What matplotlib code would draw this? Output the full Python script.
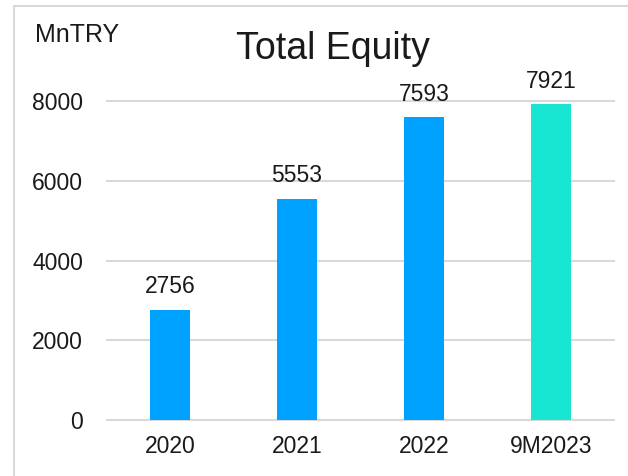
import matplotlib
matplotlib.use("Agg")
import matplotlib.pyplot as plt
from matplotlib.patches import Rectangle

categories = ["2020", "2021", "2022", "9M2023"]
values = [2756, 5553, 7593, 7921]
colors = ["#00A2FF", "#00A2FF", "#00A2FF", "#19E6D2"]
yticks = [0, 2000, 4000, 6000, 8000]

plt.rcParams['font.family'] = ['Liberation Sans', 'DejaVu Sans']

fig = plt.figure(figsize=(6.28, 4.76), dpi=100)
ax = fig.add_axes([0.170, 0.1176, 0.808, 0.670])

x = range(len(categories))
bars = ax.bar(x, values, width=0.315, color=colors, zorder=3)
for xi, v in zip(x, values):
    ax.annotate(f"{v}", (xi, v), xytext=(0, 12), textcoords="offset points",
                ha="center", va="baseline", fontsize=16.5, color="#1a1a1a",
                annotation_clip=False)

ax.set_xlim(-0.5, len(categories) - 0.5)
ax.set_ylim(0, 8000)
ax.set_yticks(yticks)
ax.set_yticklabels([str(t) for t in yticks])
ax.set_xticks(list(x))
ax.set_xticklabels(categories)
ax.tick_params(axis="y", length=0, pad=17, labelsize=16.5, labelcolor="#1a1a1a")
ax.tick_params(axis="x", length=0, pad=11, labelsize=16.5, labelcolor="#1a1a1a")
ax.grid(axis="y", color="#D9D9D9", linewidth=1.5, zorder=0)
for s in ax.spines.values():
    s.set_visible(False)
ax.set_axisbelow(True)
for gl in ax.get_ygridlines():
    gl.set_clip_on(False)

fig.text(333 / 628, 1 - 59 / 476, "Total Equity", ha="center", va="baseline",
         fontsize=27, color="#1a1a1a")
fig.text(35 / 628, 1 - 42 / 476, "MnTRY", ha="left", va="baseline",
         fontsize=18, color="#1a1a1a")

fig.add_artist(Rectangle((14 / 628, -0.1), 1.2, 1 - 6 / 476 + 0.1,
                         transform=fig.transFigure, fill=False,
                         edgecolor="#D9D9D9", linewidth=1.5))

fig.savefig("out.png", dpi=100)
